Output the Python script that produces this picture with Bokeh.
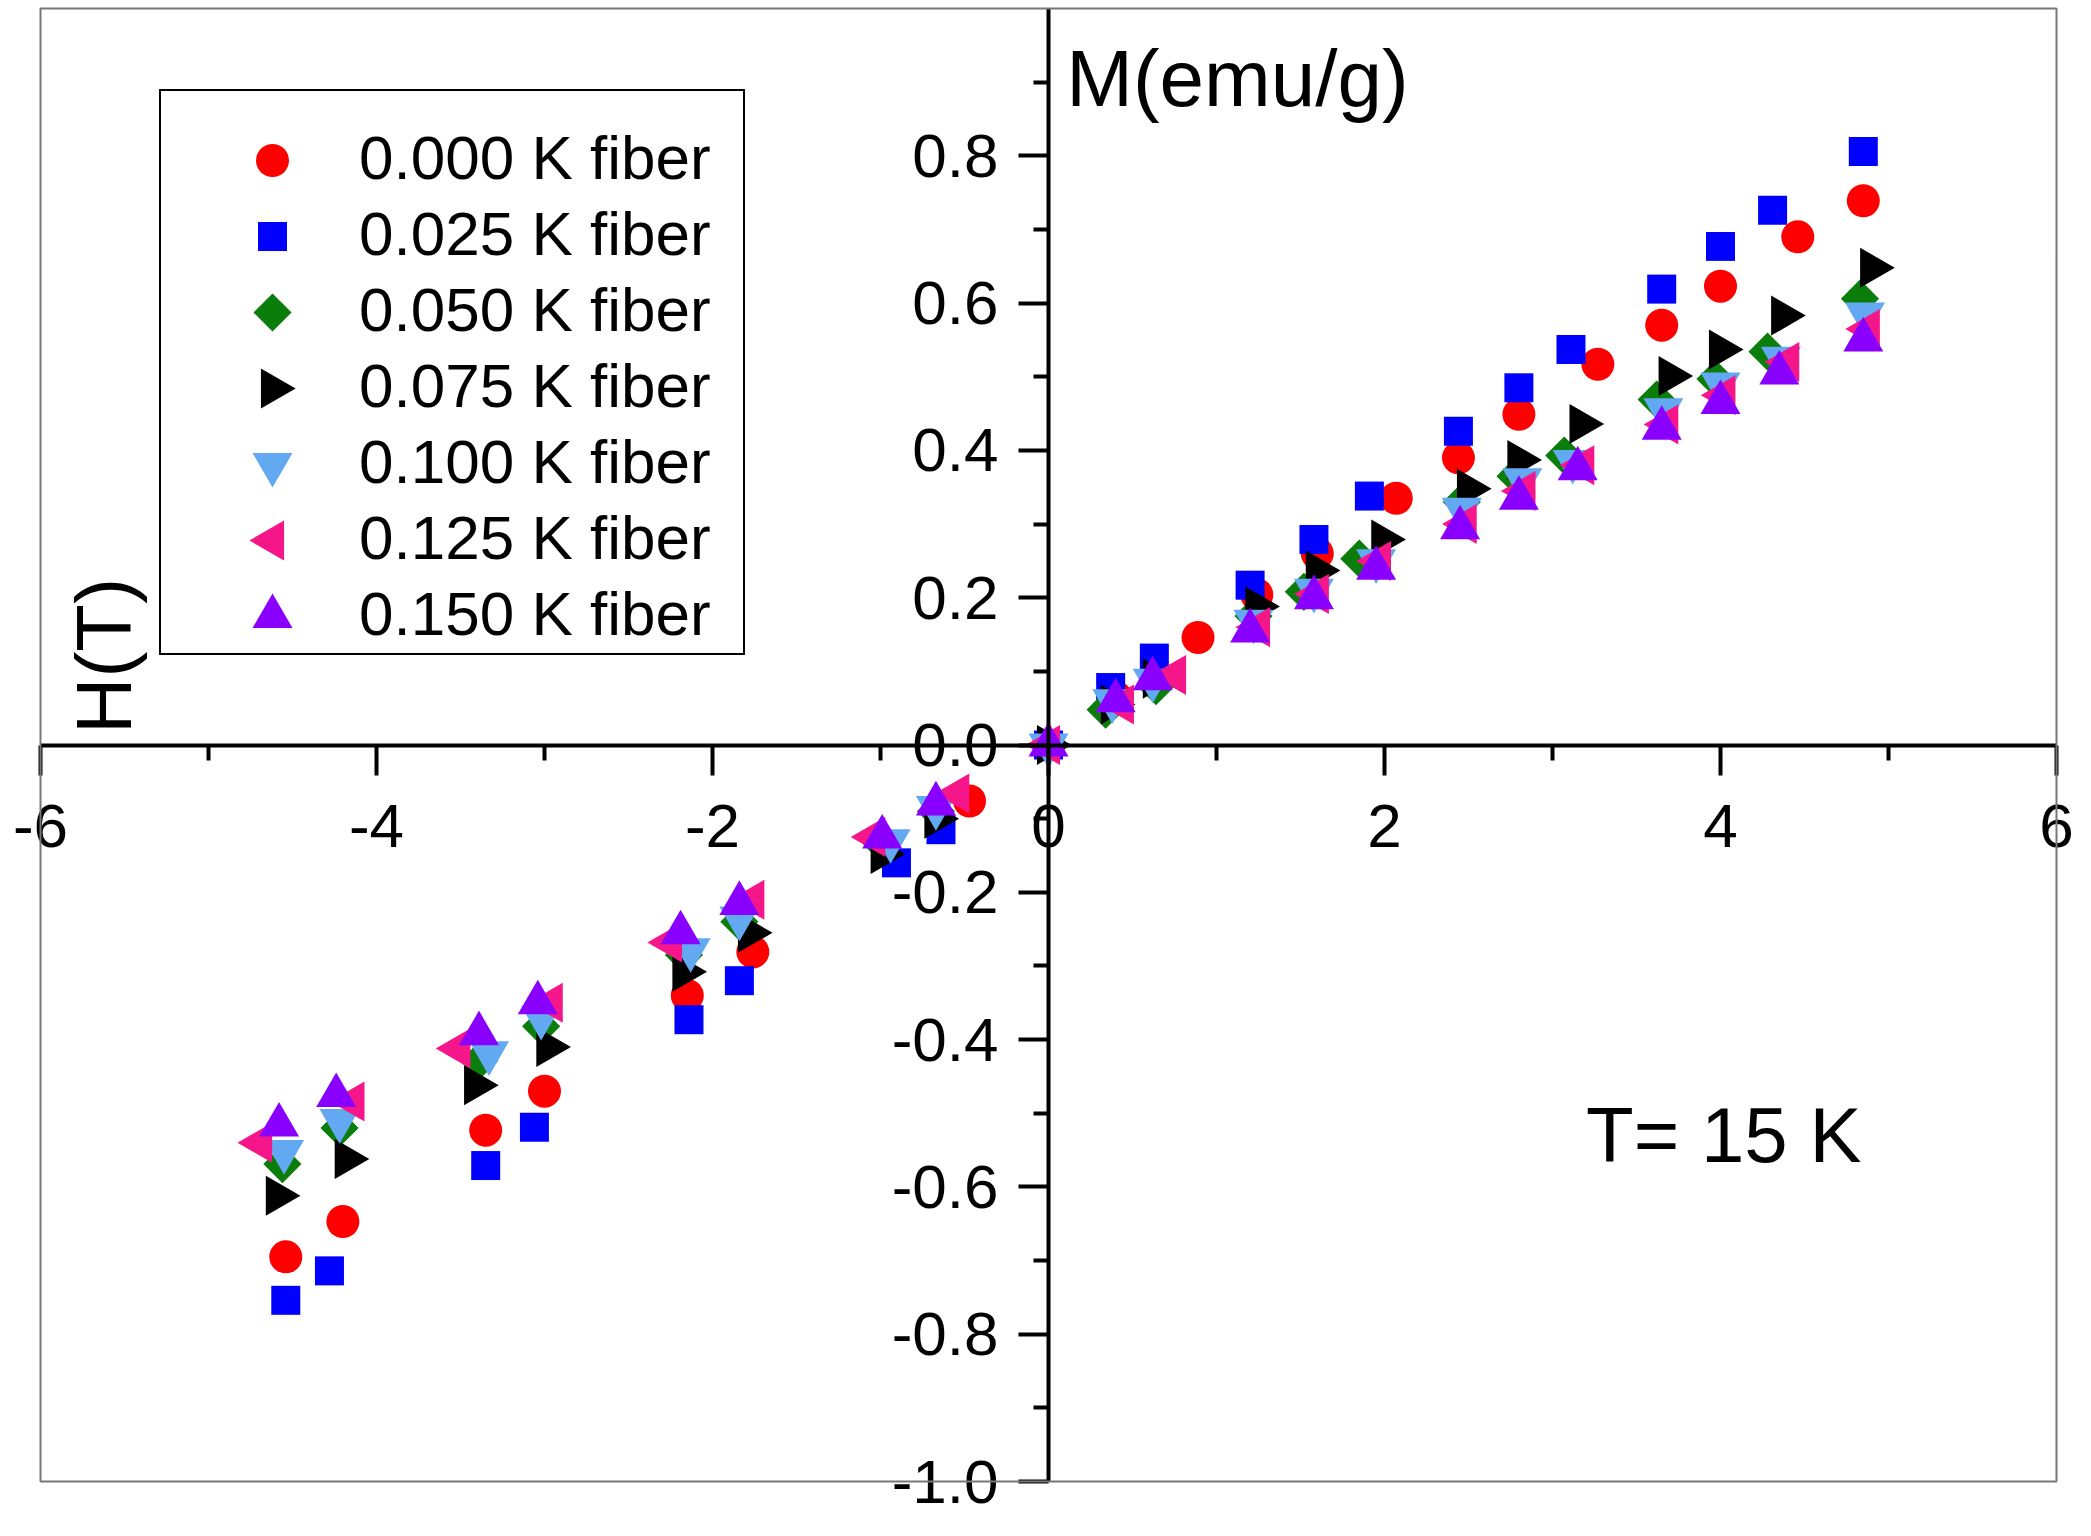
#! /usr/bin/python3

from math import pi
import bokeh.plotting as bkh
from bokeh.models import (LinearAxis, FixedTicker, PrintfTickFormatter, Label,
	Legend, LegendItem, BoxAnnotation)
from bokeh.embed import file_html
from bokeh.resources import INLINE

# field H (T) and magnetisation M (emu/g) per sample
h_000 = [-4.54, -4.20, -3.35, -3.00, -2.15, -1.76, -0.47, 0.0, 0.40, 0.89, 1.24, 1.60, 2.07, 2.44, 2.80, 3.27, 3.65, 4.00, 4.46, 4.85]
m_000 = [-0.695, -0.647, -0.523, -0.470, -0.340, -0.281, -0.076, 0.0, 0.065, 0.146, 0.204, 0.260, 0.335, 0.390, 0.449, 0.517, 0.570, 0.623, 0.690, 0.739]

h_025 = [-4.54, -4.28, -3.35, -3.06, -2.14, -1.84, -0.905, -0.64, 0.0, 0.37, 0.63, 1.20, 1.58, 1.91, 2.44, 2.80, 3.11, 3.65, 4.00, 4.31, 4.85]
m_025 = [-0.754, -0.714, -0.571, -0.519, -0.373, -0.320, -0.160, -0.115, 0.0, 0.078, 0.118, 0.217, 0.279, 0.338, 0.426, 0.485, 0.537, 0.619, 0.677, 0.726, 0.806]

h_050 = [-4.56, -4.22, -3.39, -3.02, -2.17, -1.84, -0.99, -0.67, 0.0, 0.34, 0.64, 1.22, 1.52, 1.85, 2.46, 2.78, 3.07, 3.62, 3.97, 4.28, 4.83]
m_050 = [-0.569, -0.520, -0.429, -0.382, -0.285, -0.240, -0.135, -0.090, 0.0, 0.048, 0.080, 0.175, 0.208, 0.253, 0.330, 0.365, 0.393, 0.469, 0.497, 0.534, 0.606]

h_075 = [-4.59, -4.18, -3.41, -2.98, -2.17, -1.78, -0.99, -0.67, 0.0, 0.38, 0.63, 1.24, 1.60, 1.99, 2.50, 2.80, 3.17, 3.70, 4.00, 4.37, 4.90]
m_075 = [-0.612, -0.562, -0.462, -0.410, -0.308, -0.255, -0.148, -0.100, 0.0, 0.055, 0.090, 0.188, 0.237, 0.279, 0.348, 0.387, 0.436, 0.501, 0.537, 0.583, 0.648]

h_100 = [-4.55, -4.22, -3.33, -3.02, -2.13, -1.84, -0.94, -0.67, 0.0, 0.38, 0.62, 1.22, 1.58, 1.95, 2.46, 2.82, 3.12, 3.66, 4.00, 4.36, 4.86]
m_100 = [-0.552, -0.510, -0.418, -0.370, -0.278, -0.235, -0.130, -0.085, 0.0, 0.060, 0.088, 0.168, 0.210, 0.250, 0.320, 0.360, 0.385, 0.455, 0.490, 0.525, 0.585]

h_125 = [-4.69, -4.14, -3.51, -2.96, -2.25, -1.76, -1.04, -0.54, 0.0, 0.44, 0.75, 1.25, 1.60, 1.97, 2.48, 2.83, 3.18, 3.68, 4.02, 4.40, 4.88]
m_125 = [-0.540, -0.484, -0.412, -0.350, -0.268, -0.210, -0.125, -0.066, 0.0, 0.055, 0.095, 0.160, 0.205, 0.250, 0.300, 0.345, 0.380, 0.435, 0.475, 0.520, 0.565]

h_150 = [-4.58, -4.24, -3.39, -3.04, -2.19, -1.84, -0.99, -0.67, 0.0, 0.40, 0.62, 1.20, 1.58, 1.95, 2.45, 2.80, 3.15, 3.65, 4.00, 4.35, 4.85]
m_150 = [-0.516, -0.476, -0.392, -0.350, -0.255, -0.215, -0.125, -0.080, 0.0, 0.060, 0.090, 0.155, 0.200, 0.240, 0.295, 0.335, 0.375, 0.430, 0.465, 0.505, 0.550]

names = ['0.000 K fiber', '0.025 K fiber', '0.050 K fiber', '0.075 K fiber',
	'0.100 K fiber', '0.125 K fiber', '0.150 K fiber']

x_ticks = [-6, -4, -2, 0, 2, 4, 6]
x_minor = [-5, -3, -1, 1, 3, 5]
y_ticks = [-1.0, -0.8, -0.6, -0.4, -0.2, 0.0, 0.2, 0.4, 0.6, 0.8]
y_minor = [-0.9, -0.7, -0.5, -0.3, -0.1, 0.1, 0.3, 0.5, 0.7, 0.9]

font = 'Liberation Sans'

# marker, colour, size, angle for each sample
styles = [
	('circle', '#ff0000', 33, 0),
	('square', '#0000ff', 29, 0),
	('square', '#0a7d0a', 27, pi / 4),
	('triangle', '#000000', 40, -pi / 2),
	('inverted_triangle', '#62a9f2', 40, 0),
	('triangle', '#f5168a', 40, pi / 2),
	('triangle', '#8a00ff', 40, 0),
]
series = [(h_000, m_000), (h_025, m_025), (h_050, m_050), (h_075, m_075),
	(h_100, m_100), (h_125, m_125), (h_150, m_150)]

# figure geometry (pixels); the drawn box -6..6 x -1..1 sits inside the canvas
# so the tick labels at its edges are not clipped
W, H = 2075, 1520
box_l, box_t, box_r, box_b = 40, 8, 2056, 1481
bx0, bx1, by0, by1 = -6.0, 6.0, -1.0, 1.0
sx = (box_r - box_l) / (bx1 - bx0)
sy = (box_b - box_t) / (by1 - by0)
x_range = (bx0 - box_l / sx, bx1 + (W - box_r) / sx)
y_range = (by0 - (H - box_b) / sy, by1 + box_t / sy)

def px_to_data(px, py):
	return x_range[0] + px / sx, y_range[1] - py / sy

p = bkh.figure(width=W, height=H, x_range=x_range, y_range=y_range,
	x_axis_location=None, y_axis_location=None,
	toolbar_location=None, output_backend='svg', min_border=0)
p.grid.visible = False
p.outline_line_color = None
p.background_fill_color = 'white'
p.border_fill_color = 'white'

p.add_layout(BoxAnnotation(left=bx0, right=bx1, bottom=by0, top=by1,
	fill_alpha=0, line_color='#777777', line_alpha=1.0, line_width=2))

# axes crossing at the origin
xaxis = LinearAxis(fixed_location=0, bounds=(bx0, bx1),
	ticker=FixedTicker(ticks=x_ticks, minor_ticks=x_minor),
	formatter=PrintfTickFormatter(format='%d'))
yaxis = LinearAxis(fixed_location=0, bounds=(by0, by1),
	ticker=FixedTicker(ticks=y_ticks, minor_ticks=y_minor),
	formatter=PrintfTickFormatter(format='%.1f'))
for ax in (xaxis, yaxis):
	ax.axis_line_width = 4
	ax.axis_line_color = 'black'
	ax.major_tick_line_width = 4
	ax.minor_tick_line_width = 4
	ax.major_tick_in = 0
	ax.major_tick_out = 30
	ax.minor_tick_in = 0
	ax.minor_tick_out = 15
	ax.major_label_text_font = font
	ax.major_label_text_font_size = '62px'
	ax.major_label_text_color = 'black'
xaxis.major_label_standoff = 30
yaxis.major_label_standoff = 20
p.add_layout(xaxis, 'below')
p.add_layout(yaxis, 'left')

for (hx, my), (marker, color, size, angle) in zip(series, styles):
	p.scatter(hx, my, marker=marker, size=size, angle=angle,
		fill_color=color, line_color=None)

# legend: Bokeh draws box and labels; the keys are drawn as glyphs because
# legend keys ignore the marker angle
items = []
for (marker, color, size, angle), name in zip(styles, names):
	dummy = p.scatter([], [], marker=marker, fill_alpha=0, line_alpha=0)
	items.append(LegendItem(label=name, renderers=[dummy]))

legend = Legend(items=items, location=(159, H - 655))
legend.title = ' '
legend.title_text_font_size = '18px'
legend.title_standoff = 6
legend.label_text_font = font
legend.label_text_font_size = '62px'
legend.label_text_color = 'black'
legend.glyph_height = 68
legend.label_height = 68
legend.glyph_width = 190
legend.label_width = 380
legend.label_standoff = 4
legend.spacing = 5
legend.padding = 4
legend.border_line_color = 'black'
legend.border_line_alpha = 1.0
legend.border_line_width = 2
legend.background_fill_alpha = 0
p.add_layout(legend)

key_x, key_y0, key_step = 272, 160, 76
for i, (marker, color, size, angle) in enumerate(styles):
	kx, ky = px_to_data(key_x, key_y0 + i * key_step)
	p.scatter([kx], [ky], marker=marker, size=size, angle=angle,
		fill_color=color, line_color=None)

p.add_layout(Label(x=-5.62, y=0.015, text='H(T)', angle=pi / 2,
	text_align='left', text_baseline='middle',
	text_font=font, text_font_size='78px', text_color='black'))
p.add_layout(Label(x=0.106, y=0.905, text='M(emu/g)',
	text_align='left', text_baseline='middle',
	text_font=font, text_font_size='80px', text_color='black'))
p.add_layout(Label(x=3.2, y=-0.53, text='T= 15 K',
	text_align='left', text_baseline='middle',
	text_font=font, text_font_size='78px', text_color='black'))

open('out.html', 'w').write(file_html(p, INLINE))
